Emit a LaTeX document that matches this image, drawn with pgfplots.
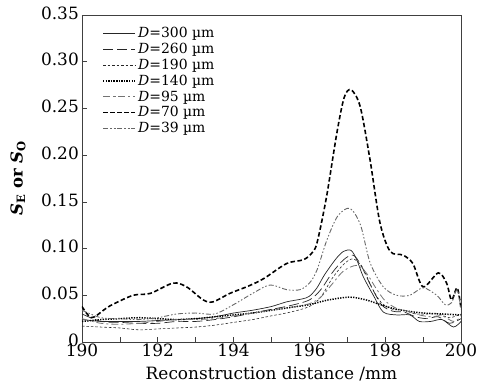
\documentclass[border=0pt]{standalone}
\usepackage{fontspec}
\setmainfont{DejaVu Serif}
\usepackage{pgfplots}
\pgfplotsset{compat=1.18}
\begin{document}
\begin{tikzpicture}
\useasboundingbox (-82bp,-44bp) rectangle (396bp,342bp);
\begin{axis}[
  at={(0,0)}, anchor=south west,
  scale only axis,
  width=379bp, height=327bp,
  xmin=190, xmax=200, ymin=0, ymax=0.35,
  axis line style={black!75, line width=0.8pt},
  /pgf/number format/assume math mode=true,
  xtick={190,192,194,196,198,200},
  xticklabels={190,192,194,196,198,200},
  minor xtick={191,193,195,197,199},
  ytick={0,0.05,0.10,0.15,0.20,0.25,0.30,0.35},
  yticklabels={0,0.05,0.10,0.15,0.20,0.25,0.30,0.35},
  tick align=inside,
  xtick pos=bottom, ytick pos=left,
  major tick length=5bp, minor tick length=5bp,
  tick style={black!75, line width=0.7pt},
  ticklabel style={font=\fontsize{17}{18}\selectfont},
  xticklabel style={inner sep=1bp, yshift=-1bp},
  yticklabel style={inner sep=2bp, xshift=-1bp, yshift=2bp},
  xlabel={Reconstruction distance /mm},
  xlabel style={font=\fontsize{17}{19}\selectfont, at={(axis description cs:0.5,0)}, anchor=base, yshift=-37bp},
  ylabel={\textbf{\textit{S}\textsubscript{E} or \textit{S}\textsubscript{O}}},
  ylabel style={font=\fontsize{16.5}{18}\selectfont, at={(axis description cs:-0.169,0.5)}, anchor=center},
  legend style={at={(0.045,0.975)}, anchor=north west, draw=none, fill=none,
    font=\fontsize{14}{15}\selectfont},
  legend image post style={xscale=1.9},
  legend cell align=left,
]
% D=300 solid
\addplot[smooth, black!85, line width=0.7pt] coordinates {
(190,0.024)(190.5,0.022)(191,0.022)(191.5,0.022)(192,0.023)(192.5,0.024)(193,0.025)(193.5,0.027)(194,0.031)(194.5,0.034)(195,0.038)(195.4,0.043)(195.8,0.046)(196.0,0.049)(196.2,0.058)(196.4,0.072)(196.7,0.089)(196.9,0.097)(197.1,0.098)(197.25,0.088)(197.42,0.070)(197.7,0.049)(197.95,0.032)(198.3,0.029)(198.65,0.029)(198.9,0.022)(199.2,0.022)(199.5,0.024)(199.8,0.016)(200,0.022)};
\addlegendentry{\textit{D}=300 µm}
% D=260 long dash
\addplot[smooth, black!85, line width=0.7pt, dash pattern=on 10bp off 4bp] coordinates {
(190,0.030)(190.5,0.022)(191,0.021)(191.5,0.020)(192,0.020)(192.5,0.022)(193,0.022)(193.5,0.024)(194,0.027)(194.5,0.031)(195,0.035)(195.5,0.039)(196,0.045)(196.3,0.056)(196.6,0.074)(196.9,0.088)(197.15,0.093)(197.35,0.083)(197.6,0.062)(197.9,0.040)(198.2,0.033)(198.5,0.032)(198.8,0.027)(199.1,0.025)(199.4,0.027)(199.7,0.020)(200,0.025)};
\addlegendentry{\textit{D}=260 µm}
% D=190 fine dashed
\addplot[smooth, black!85, line width=0.6pt, dash pattern=on 2.5bp off 2bp] coordinates {
(190,0.017)(190.5,0.016)(191,0.015)(191.5,0.013)(192,0.014)(192.5,0.015)(193,0.016)(193.5,0.018)(194,0.021)(194.5,0.024)(195,0.028)(195.5,0.032)(196,0.038)(196.3,0.048)(196.6,0.068)(196.9,0.083)(197.15,0.089)(197.4,0.080)(197.65,0.058)(197.9,0.042)(198.2,0.035)(198.5,0.034)(198.8,0.030)(199.1,0.030)(199.4,0.030)(199.7,0.026)(200,0.030)};
\addlegendentry{\textit{D}=190 µm}
% D=140 dotted thick
\addplot[smooth, black, line width=1.5pt, dash pattern=on 1.3bp off 1.3bp] coordinates {
(190,0.022)(190.5,0.024)(191,0.025)(191.5,0.026)(192,0.025)(192.5,0.024)(193,0.025)(193.5,0.027)(194,0.029)(194.5,0.031)(195,0.034)(195.5,0.037)(196,0.040)(196.5,0.045)(197.07,0.048)(197.5,0.045)(197.8,0.041)(198.2,0.036)(198.6,0.033)(199,0.031)(199.5,0.030)(200,0.029)};
\addlegendentry{\textit{D}=140 µm}
% D=95 dash-dot gray
\addplot[smooth, black!55, line width=0.8pt, dash pattern=on 7bp off 3bp on 2bp off 3bp] coordinates {
(190,0.025)(190.5,0.020)(191,0.019)(191.5,0.020)(192,0.022)(192.5,0.024)(193,0.024)(193.5,0.025)(194,0.028)(194.5,0.031)(195,0.034)(195.5,0.037)(196,0.041)(196.3,0.048)(196.6,0.062)(196.9,0.076)(197.25,0.082)(197.5,0.074)(197.75,0.058)(198.0,0.044)(198.3,0.036)(198.6,0.033)(198.9,0.029)(199.2,0.027)(199.5,0.028)(199.8,0.022)(200,0.027)};
\addlegendentry{\textit{D}=95 µm}
% D=70 thick dashed
\addplot[smooth, black, line width=1.6pt, dash pattern=on 4.5bp off 2.5bp] coordinates {
(190,0.038)(190.25,0.026)(190.6,0.035)(190.8,0.040)(191.35,0.050)(191.8,0.052)(192.4,0.063)(192.76,0.059)(193.2,0.045)(193.46,0.043)(193.9,0.052)(194.4,0.060)(194.8,0.068)(195.4,0.084)(195.84,0.088)(196.06,0.095)(196.2,0.106)(196.45,0.155)(196.73,0.225)(196.92,0.262)(197.1,0.270)(197.34,0.252)(197.6,0.195)(197.86,0.128)(198.13,0.097)(198.47,0.093)(198.73,0.084)(199.0,0.059)(199.4,0.074)(199.62,0.063)(199.75,0.045)(199.9,0.058)(200,0.036)};
\addlegendentry{\textit{D}=70 µm}
% D=39 dash-dot-dot gray
\addplot[smooth, black!60, line width=0.9pt, dash pattern=on 5bp off 2bp on 1.5bp off 2bp on 1.5bp off 2bp] coordinates {
(190,0.034)(190.5,0.026)(191,0.025)(191.5,0.024)(192,0.026)(192.5,0.030)(193,0.031)(193.5,0.030)(194,0.040)(194.5,0.052)(194.96,0.061)(195.4,0.056)(195.75,0.056)(196.0,0.063)(196.2,0.077)(196.46,0.109)(196.75,0.135)(197.07,0.143)(197.35,0.125)(197.6,0.085)(197.95,0.059)(198.3,0.050)(198.65,0.050)(199.0,0.058)(199.36,0.050)(199.58,0.040)(199.75,0.042)(199.9,0.056)(200,0.035)};
\addlegendentry{\textit{D}=39 µm}
\end{axis}
\end{tikzpicture}
\end{document}
